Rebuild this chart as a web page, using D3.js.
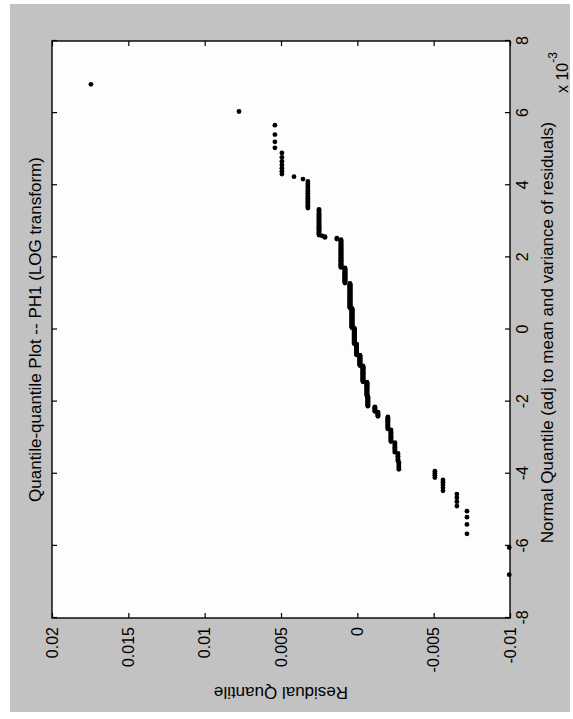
<!DOCTYPE html>
<html>
<head>
<meta charset="utf-8">
<script src="https://cdn.jsdelivr.net/npm/d3@7"></script>
<style>
  body { margin: 0; background: #fff; }
  text { font-family: "Liberation Sans", Arial, sans-serif; fill: #000; }
</style>
</head>
<body>
<div id="viz"></div>
<script>

// sorted residuals, stored as distinct levels (high to low) and how many residuals share each level
let residualLevels = [0.01745, 0.00775, 0.00540, 0.00494, 0.00415, 0.00356, 0.00324, 0.00251,
                      0.00230, 0.00212, 0.00134, 0.00107, 0.00081, 0.00048, 0.00035, 0.00020,
                      0.00005, -0.00017, -0.00037, -0.00063, -0.00069, -0.00115, -0.00135, -0.00200,
                      -0.00220, -0.00246, -0.00266, -0.00272, -0.00508, -0.00561, -0.00652, -0.00718, -0.00995];
let levelCounts = [1, 1, 4, 7, 1, 1, 17, 27,
                   1, 2, 2, 45, 31, 57, 49, 40,
                   27, 25, 35, 27, 17, 8, 7, 16,
                   13, 9, 6, 5, 4, 5, 4, 4, 2];

// mean and std used for the normal quantile axis
let quantMean = 0;
let quantSd = 0.0022;

let quantTicks = [-0.008, -0.006, -0.004, -0.002, 0, 0.002, 0.004, 0.006, 0.008];
let residTicks = [-0.01, -0.005, 0, 0.005, 0.01, 0.015, 0.02];
let residTickLabels = ['-0.01', '-0.005', '0', '0.005', '0.01', '0.015', '0.02'];

let plotTitle = 'Quantile-quantile Plot -- PH1 (LOG transform)';
let xTitle = 'Normal Quantile (adj to mean and variance of residuals)';
let yTitle = 'Residual Quantile';

let W = 573, H = 719;          // page size
let fw = H, fh = W;            // the figure is drawn upright, then turned a quarter turn
let margin = {top: 52, right: fw - 678, bottom: fh - 510, left: 101};

let svg = d3.select('#viz').append('svg')
    .attr('width', W)
    .attr('height', H);

// grey figure background
svg.append('rect')
    .attr('x', 10).attr('y', 4)
    .attr('width', 560).attr('height', 708)
    .attr('fill', '#c2c2c2');

let fig = svg.append('g')
    .attr('transform', `translate(0,${H}) rotate(-90)`);

let x = d3.scaleLinear()
    .domain([-0.008, 0.008])
    .range([margin.left, fw - margin.right]);

let y = d3.scaleLinear()
    .domain([-0.01, 0.02])
    .range([fh - margin.bottom, margin.top]);

// expand levels into the sorted sample (ascending)
let sample = [];
residualLevels.forEach((v, i) => {
    for (let k = 0; k < levelCounts[i]; k++) sample.push(v);
});
sample.sort((a, b) => a - b);

let n = sample.length;

// inverse normal cdf (Acklam)
function norminv(p) {
    let a = [-3.969683028665376e+01, 2.209460984245205e+02, -2.759285104469687e+02, 1.383577518672690e+02, -3.066479806614716e+01, 2.506628277459239e+00];
    let b = [-5.447609879822406e+01, 1.615858368580409e+02, -1.556989798598866e+02, 6.680131188771972e+01, -1.328068155288572e+01];
    let c = [-7.784894002430293e-03, -3.223964580411365e-01, -2.400758277161838e+00, -2.549732539343734e+00, 4.374664141464968e+00, 2.938163982698783e+00];
    let d = [7.784695709041462e-03, 3.224671290700398e-01, 2.445134137142996e+00, 3.754408661907416e+00];
    let pl = 0.02425, q, r;
    if (p < pl) {
        q = Math.sqrt(-2 * Math.log(p));
        return (((((c[0]*q+c[1])*q+c[2])*q+c[3])*q+c[4])*q+c[5]) / ((((d[0]*q+d[1])*q+d[2])*q+d[3])*q+1);
    }
    if (p > 1 - pl) {
        q = Math.sqrt(-2 * Math.log(1 - p));
        return -(((((c[0]*q+c[1])*q+c[2])*q+c[3])*q+c[4])*q+c[5]) / ((((d[0]*q+d[1])*q+d[2])*q+d[3])*q+1);
    }
    q = p - 0.5; r = q * q;
    return (((((a[0]*r+a[1])*r+a[2])*r+a[3])*r+a[4])*r+a[5])*q / (((((b[0]*r+b[1])*r+b[2])*r+b[3])*r+b[4])*r+1);
}

let points = sample.map((v, i) => ({q: quantMean + quantSd * norminv((i + 0.5) / n), r: v}));

// axes box
fig.append('rect')
    .attr('x', x.range()[0]).attr('y', y.range()[1])
    .attr('width', x.range()[1] - x.range()[0])
    .attr('height', y.range()[0] - y.range()[1])
    .attr('fill', '#fdfdfd');

// ticks point inwards on all four sides (box on)
let fs = 16;
let bottomAxis = fig.append('g')
    .attr('transform', `translate(0,${y.range()[0]})`)
    .call(d3.axisBottom(x).tickValues(quantTicks).tickSize(-5).tickPadding(7)
        .tickFormat(d => String(Math.round(d * 1000))));
let topAxis = fig.append('g')
    .attr('transform', `translate(0,${y.range()[1]})`)
    .call(d3.axisTop(x).tickValues(quantTicks).tickSize(-5).tickFormat(''));
let leftAxis = fig.append('g')
    .attr('transform', `translate(${x.range()[0]},0)`)
    .call(d3.axisLeft(y).tickValues(residTicks).tickSize(-5).tickPadding(9)
        .tickFormat((d, i) => residTickLabels[i]));
let rightAxis = fig.append('g')
    .attr('transform', `translate(${x.range()[1]},0)`)
    .call(d3.axisRight(y).tickValues(residTicks).tickSize(-5).tickFormat(''));

[bottomAxis, topAxis, leftAxis, rightAxis].forEach(a => {
    a.select('.domain').remove();
    a.selectAll('line').attr('stroke', '#000').attr('stroke-width', 1.2);
    a.selectAll('text').style('font-size', fs + 'px').style('font-family', '"Liberation Sans", Arial, sans-serif');
});

// data points
fig.append('g')
    .selectAll('circle')
    .data(points)
    .join('circle')
    .attr('cx', d => x(d.q))
    .attr('cy', d => y(d.r))
    .attr('r', 2.4)
    .attr('fill', '#000');

fig.append('rect')
    .attr('x', x.range()[0]).attr('y', y.range()[1])
    .attr('width', x.range()[1] - x.range()[0])
    .attr('height', y.range()[0] - y.range()[1])
    .attr('fill', 'none')
    .attr('stroke', '#000')
    .attr('stroke-width', 1.4);

// titles
let cx = (x.range()[0] + x.range()[1]) / 2;
let cy = (y.range()[0] + y.range()[1]) / 2;

fig.append('text')
    .attr('x', cx).attr('y', 41)
    .attr('text-anchor', 'middle')
    .style('font-size', '17px')
    .text(plotTitle);

fig.append('text')
    .attr('x', cx - 3).attr('y', 553)
    .attr('text-anchor', 'middle')
    .style('font-size', '17px')
    .text(xTitle);

let expo = fig.append('text')
    .attr('x', 626).attr('y', 568)
    .style('font-size', fs + 'px');
expo.append('tspan').text('x 10');
expo.append('tspan').attr('dy', -11).style('font-size', '12px').text('-3');

fig.append('text')
    .attr('transform', `translate(32,${cy}) rotate(-90)`)
    .attr('text-anchor', 'middle')
    .style('font-size', '17px')
    .text(yTitle);

</script>
</body>
</html>
